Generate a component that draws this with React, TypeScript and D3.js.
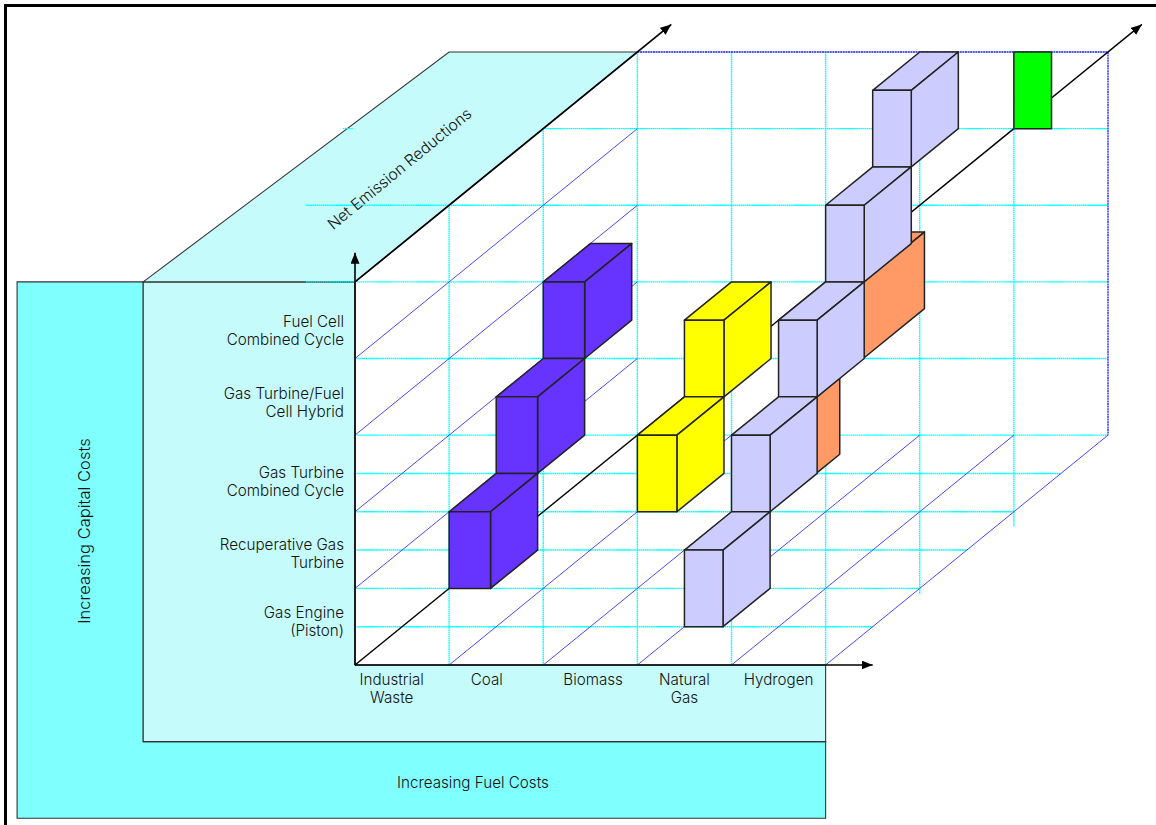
// App.tsx
import React, { useEffect, useRef } from "react";
import * as d3 from "d3";

const width = 1156;
const height = 825;

// fuel columns along the bottom axis
const fuels = [["Industrial", "Waste"], ["Coal"], ["Biomass"], ["Natural", "Gas"], ["Hydrogen"]];
const fuelLabelAt = [0.39, 1.4, 2.53, 3.5, 4.5];

// technology rows up the side axis
const technologies = [
    ["Gas Engine", "(Piston)"],
    ["Recuperative Gas", "Turbine"],
    ["Gas Turbine", "Combined Cycle"],
    ["Gas Turbine/Fuel", "Cell Hybrid"],
    ["Fuel Cell", "Combined Cycle"],
];
const technologyLabelAt = [0.57, 1.46, 2.4, 3.43, 4.37];

// [fuel column, technology row, emission depth]
const greenBlocks = [[4, 4, 3]];
const orangeBlocks = [[4, 3, 1], [4, 2, 0.5]];
const orangeDepths = [0.65, 0.25];
const lavenderBlocks = [[3, 4, 2.5], [3, 3, 2], [3, 2, 1.5], [3, 1, 1], [3, 0, 0.5]];
const yellowBlocks = [[2, 2, 1.5], [2, 1, 1]];
const purpleBlocks = [[0, 2, 2], [0, 1, 1.5], [0, 0, 1]];

// grid rows as [level, start column]
const gridRows = [
    [0.5, 0], [1, 0], [1.5, 0], [2, 0], [2.5, 0], [3, 0], [4, 0], [5, -0.52], [6, -0.52], [7, 2],
];
// grid columns as [column, top level, lowest level]
const gridColumns = [
    [1, 6, 0], [2, 7, 0], [3, 8, 0], [4, 8, 0], [5, 8, 0], [6, 8, 0.92], [7, 8, 1.8],
];
const wallDiagonals = [1, 2, 3, 4];
const floorDiagonals = [1, 2, 3, 4, 5];

const x = d3.scaleLinear().domain([0, 8]).range([355, 1108]);
const y = d3.scaleLinear().domain([0, 8]).range([665, 52]);

const outline = d3.line<number[]>().x((d) => x(d[0])).y((d) => y(d[1]));
const closed = (pts: number[][]) => outline(pts) + "Z";

export default function App() {
    const svgRef = useRef<SVGSVGElement | null>(null);

    useEffect(() => {
        if (!svgRef.current) return;
        const svg = d3.select(svgRef.current);
        svg.selectAll("*").remove();

        const defs = svg.append("defs");
        defs.append("marker")
            .attr("id", "head")
            .attr("markerUnits", "userSpaceOnUse")
            .attr("viewBox", "0 0 11 9")
            .attr("refX", 11)
            .attr("refY", 4.5)
            .attr("markerWidth", 11)
            .attr("markerHeight", 9)
            .attr("orient", "auto")
            .append("path")
            .attr("d", "M0,0L11,4.5L0,9Z")
            .attr("fill", "#000");

        // page frame
        svg.append("path")
            .attr("d", `M5.5,${height}V5.5H${width}`)
            .attr("fill", "none")
            .attr("stroke", "#000")
            .attr("stroke-width", 3);

        // backing panels
        const panel = (pts: number[][], fill: string) =>
            svg.append("path")
                .attr("d", closed(pts))
                .attr("fill", fill)
                .attr("stroke", "#333")
                .attr("stroke-width", 1.1);

        panel([[-3.59, 5], [-2.25, 5], [-2.25, -1], [5, -1], [5, -2], [-3.59, -2]], "#80ffff");
        panel([[-2.25, 5], [0, 5], [0, 0], [5, 0], [5, -1], [-2.25, -1]], "#c6fbfb");
        panel([[-2.25, 5], [1, 8], [3, 8], [0, 5]], "#c6fbfb");

        // cyan grid
        const grid = svg.append("g")
            .attr("fill", "none")
            .attr("stroke", "#00ffff")
            .attr("stroke-width", 1.4)
            .attr("stroke-dasharray", "1.6 0.5");
        gridRows.forEach(([level, start]) => {
            grid.append("path").attr("d", outline([[start, level], [Math.min(8, 5 + level), level]]));
        });
        grid.append("path").attr("d", outline([[-0.13, 7], [-0.02, 7]]));
        gridColumns.forEach(([col, top, low]) => {
            grid.append("path").attr("d", outline([[col, top], [col, low]]));
        });

        // blue depth lines
        const blue = svg.append("g")
            .attr("fill", "none")
            .attr("stroke", "#3333ff")
            .attr("stroke-width", 0.9);
        wallDiagonals.forEach((level) => {
            blue.append("path").attr("d", outline([[0, level], [3, level + 3]]));
        });
        floorDiagonals.forEach((col) => {
            blue.append("path").attr("d", outline([[col, 0], [col + 3, 3]]));
        });
        blue.append("path")
            .attr("d", outline([[3, 8], [8, 8], [8, 3]]))
            .attr("stroke", "#1a1aff")
            .attr("stroke-width", 1.3)
            .attr("stroke-dasharray", "2 0.6");

        // axes
        const arrow = (pts: number[][], w: number) =>
            svg.append("path")
                .attr("d", outline(pts))
                .attr("fill", "none")
                .attr("stroke", "#000")
                .attr("stroke-width", w)
                .attr("marker-end", "url(#head)");
        arrow([[0, 0], [0, 5.38]], 1.6);
        arrow([[0, 0], [5.5, 0]], 1.6);
        arrow([[0, 0], [8.36, 8.36]], 1.4);
        arrow([[0, 5], [3.36, 8.36]], 1.7);

        // blocks
        const drawBlock = (
            [col, row, z]: number[],
            fill: string,
            wide: number,
            deep: number,
        ) => {
            const c = col + z;
            const r = row + z;
            const g = svg.append("g")
                .attr("fill", fill)
                .attr("stroke", "#222")
                .attr("stroke-width", 1.5)
                .attr("stroke-linejoin", "round");
            if (deep > 0) {
                g.append("path").attr("d", closed([
                    [c, r + 1], [c + wide, r + 1], [c + wide + deep, r + 1 + deep], [c + deep, r + 1 + deep],
                ]));
                g.append("path").attr("d", closed([
                    [c + wide, r], [c + wide + deep, r + deep], [c + wide + deep, r + 1 + deep], [c + wide, r + 1],
                ]));
            }
            g.append("path").attr("d", closed([[c, r], [c + wide, r], [c + wide, r + 1], [c, r + 1]]));
        };

        greenBlocks.forEach((b) => drawBlock(b, "#00ff00", 0.4, 0));
        orangeBlocks.forEach((b, i) => drawBlock(b, "#ff9966", 0.4, orangeDepths[i]));
        lavenderBlocks.forEach((b) => drawBlock(b, "#ccccff", 0.41, 0.5));
        yellowBlocks.forEach((b) => drawBlock(b, "#ffff00", 0.42, 0.5));
        purpleBlocks.forEach((b) => drawBlock(b, "#6633ff", 0.44, 0.5));

        // labels
        const text = svg.append("g")
            .attr("font-family", "Inter, 'DejaVu Sans'")
            .attr("font-weight", 300)
            .attr("font-size", 15.2)
            .attr("fill", "#111");

        fuels.forEach((lines, i) => {
            lines.forEach((line, k) => {
                text.append("text")
                    .attr("x", x(fuelLabelAt[i]))
                    .attr("y", 684.5 + k * 18.5)
                    .attr("text-anchor", "middle")
                    .text(line);
            });
        });
        technologies.forEach((lines, i) => {
            lines.forEach((line, k) => {
                text.append("text")
                    .attr("x", 344)
                    .attr("y", y(technologyLabelAt[i]) - 3.5 + k * 18.5)
                    .attr("text-anchor", "end")
                    .text(line);
            });
        });
        text.append("text")
            .attr("x", 473)
            .attr("y", 787.5)
            .attr("text-anchor", "middle")
            .text("Increasing Fuel Costs");
        text.append("text")
            .attr("transform", "translate(90,531) rotate(-90)")
            .attr("text-anchor", "middle")
            .attr("font-size", 16.5)
            .text("Increasing Capital Costs");
        text.append("text")
            .attr("transform", "translate(403,173) rotate(-39.4)")
            .attr("text-anchor", "middle")
            .attr("font-size", 15.7)
            .text("Net Emission Reductions");
    }, []);

    return (
        <svg
            ref={svgRef}
            width={width}
            height={height}
            style={{ position: "absolute", left: 0, top: 0, background: "#fff" }}
        />
    );
}
